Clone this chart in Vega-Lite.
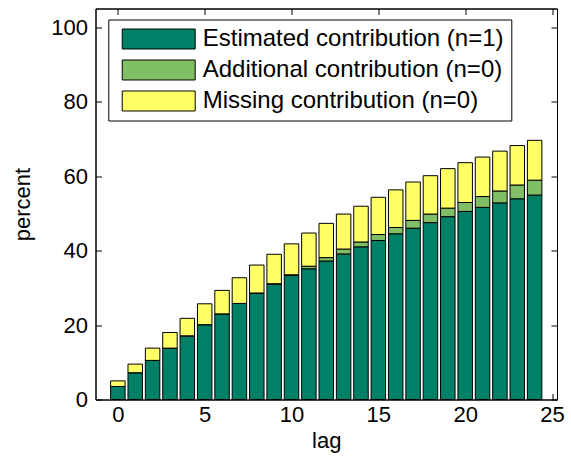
{
  "$schema": "https://vega.github.io/schema/vega-lite/v6.json",
  "width": 461.5,
  "height": 391,
  "autosize": "none",
  "padding": {"left": 95.5, "top": 8.5, "right": 14, "bottom": 64.5},
  "background": "white",
  "config": {
    "view": {"stroke": "black", "strokeWidth": 1},
    "font": "Liberation Sans",
    "axis": {
      "grid": false,
      "domainColor": "black",
      "domainWidth": 1,
      "tickColor": "black",
      "tickWidth": 1,
      "tickSize": -6,
      "labelColor": "black",
      "labelFont": "Liberation Sans",
      "labelFontSize": 22,
      "titleColor": "black",
      "titleFont": "Liberation Sans",
      "titleFontSize": 22,
      "titleFontWeight": "normal"
    }
  },
  "data": {
    "values": [
      {"lag": 0, "c": "Estimated contribution (n=1)", "i": 1, "v": 3.5},
      {"lag": 0, "c": "Additional contribution (n=0)", "i": 2, "v": 0},
      {"lag": 0, "c": "Missing contribution (n=0)", "i": 3, "v": 1.5},
      {"lag": 1, "c": "Estimated contribution (n=1)", "i": 1, "v": 7.2},
      {"lag": 1, "c": "Additional contribution (n=0)", "i": 2, "v": 0},
      {"lag": 1, "c": "Missing contribution (n=0)", "i": 3, "v": 2.3},
      {"lag": 2, "c": "Estimated contribution (n=1)", "i": 1, "v": 10.5},
      {"lag": 2, "c": "Additional contribution (n=0)", "i": 2, "v": 0},
      {"lag": 2, "c": "Missing contribution (n=0)", "i": 3, "v": 3.3},
      {"lag": 3, "c": "Estimated contribution (n=1)", "i": 1, "v": 13.8},
      {"lag": 3, "c": "Additional contribution (n=0)", "i": 2, "v": 0},
      {"lag": 3, "c": "Missing contribution (n=0)", "i": 3, "v": 4.2},
      {"lag": 4, "c": "Estimated contribution (n=1)", "i": 1, "v": 17.1},
      {"lag": 4, "c": "Additional contribution (n=0)", "i": 2, "v": 0},
      {"lag": 4, "c": "Missing contribution (n=0)", "i": 3, "v": 4.7},
      {"lag": 5, "c": "Estimated contribution (n=1)", "i": 1, "v": 20.1},
      {"lag": 5, "c": "Additional contribution (n=0)", "i": 2, "v": 0},
      {"lag": 5, "c": "Missing contribution (n=0)", "i": 3, "v": 5.6},
      {"lag": 6, "c": "Estimated contribution (n=1)", "i": 1, "v": 23.0},
      {"lag": 6, "c": "Additional contribution (n=0)", "i": 2, "v": 0},
      {"lag": 6, "c": "Missing contribution (n=0)", "i": 3, "v": 6.3},
      {"lag": 7, "c": "Estimated contribution (n=1)", "i": 1, "v": 25.8},
      {"lag": 7, "c": "Additional contribution (n=0)", "i": 2, "v": 0},
      {"lag": 7, "c": "Missing contribution (n=0)", "i": 3, "v": 6.9},
      {"lag": 8, "c": "Estimated contribution (n=1)", "i": 1, "v": 28.5},
      {"lag": 8, "c": "Additional contribution (n=0)", "i": 2, "v": 0.1},
      {"lag": 8, "c": "Missing contribution (n=0)", "i": 3, "v": 7.5},
      {"lag": 9, "c": "Estimated contribution (n=1)", "i": 1, "v": 31.0},
      {"lag": 9, "c": "Additional contribution (n=0)", "i": 2, "v": 0.1},
      {"lag": 9, "c": "Missing contribution (n=0)", "i": 3, "v": 7.9},
      {"lag": 10, "c": "Estimated contribution (n=1)", "i": 1, "v": 33.3},
      {"lag": 10, "c": "Additional contribution (n=0)", "i": 2, "v": 0.2},
      {"lag": 10, "c": "Missing contribution (n=0)", "i": 3, "v": 8.3},
      {"lag": 11, "c": "Estimated contribution (n=1)", "i": 1, "v": 35.1},
      {"lag": 11, "c": "Additional contribution (n=0)", "i": 2, "v": 0.7},
      {"lag": 11, "c": "Missing contribution (n=0)", "i": 3, "v": 8.9},
      {"lag": 12, "c": "Estimated contribution (n=1)", "i": 1, "v": 37.2},
      {"lag": 12, "c": "Additional contribution (n=0)", "i": 2, "v": 0.9},
      {"lag": 12, "c": "Missing contribution (n=0)", "i": 3, "v": 9.2},
      {"lag": 13, "c": "Estimated contribution (n=1)", "i": 1, "v": 39.1},
      {"lag": 13, "c": "Additional contribution (n=0)", "i": 2, "v": 1.3},
      {"lag": 13, "c": "Missing contribution (n=0)", "i": 3, "v": 9.4},
      {"lag": 14, "c": "Estimated contribution (n=1)", "i": 1, "v": 41.0},
      {"lag": 14, "c": "Additional contribution (n=0)", "i": 2, "v": 1.3},
      {"lag": 14, "c": "Missing contribution (n=0)", "i": 3, "v": 9.6},
      {"lag": 15, "c": "Estimated contribution (n=1)", "i": 1, "v": 42.7},
      {"lag": 15, "c": "Additional contribution (n=0)", "i": 2, "v": 1.6},
      {"lag": 15, "c": "Missing contribution (n=0)", "i": 3, "v": 10.0},
      {"lag": 16, "c": "Estimated contribution (n=1)", "i": 1, "v": 44.5},
      {"lag": 16, "c": "Additional contribution (n=0)", "i": 2, "v": 1.7},
      {"lag": 16, "c": "Missing contribution (n=0)", "i": 3, "v": 10.1},
      {"lag": 17, "c": "Estimated contribution (n=1)", "i": 1, "v": 46.0},
      {"lag": 17, "c": "Additional contribution (n=0)", "i": 2, "v": 2.1},
      {"lag": 17, "c": "Missing contribution (n=0)", "i": 3, "v": 10.3},
      {"lag": 18, "c": "Estimated contribution (n=1)", "i": 1, "v": 47.5},
      {"lag": 18, "c": "Additional contribution (n=0)", "i": 2, "v": 2.3},
      {"lag": 18, "c": "Missing contribution (n=0)", "i": 3, "v": 10.3},
      {"lag": 19, "c": "Estimated contribution (n=1)", "i": 1, "v": 49.1},
      {"lag": 19, "c": "Additional contribution (n=0)", "i": 2, "v": 2.3},
      {"lag": 19, "c": "Missing contribution (n=0)", "i": 3, "v": 10.6},
      {"lag": 20, "c": "Estimated contribution (n=1)", "i": 1, "v": 50.5},
      {"lag": 20, "c": "Additional contribution (n=0)", "i": 2, "v": 2.4},
      {"lag": 20, "c": "Missing contribution (n=0)", "i": 3, "v": 10.7},
      {"lag": 21, "c": "Estimated contribution (n=1)", "i": 1, "v": 51.6},
      {"lag": 21, "c": "Additional contribution (n=0)", "i": 2, "v": 2.9},
      {"lag": 21, "c": "Missing contribution (n=0)", "i": 3, "v": 10.6},
      {"lag": 22, "c": "Estimated contribution (n=1)", "i": 1, "v": 52.8},
      {"lag": 22, "c": "Additional contribution (n=0)", "i": 2, "v": 3.2},
      {"lag": 22, "c": "Missing contribution (n=0)", "i": 3, "v": 10.7},
      {"lag": 23, "c": "Estimated contribution (n=1)", "i": 1, "v": 53.9},
      {"lag": 23, "c": "Additional contribution (n=0)", "i": 2, "v": 3.7},
      {"lag": 23, "c": "Missing contribution (n=0)", "i": 3, "v": 10.6},
      {"lag": 24, "c": "Estimated contribution (n=1)", "i": 1, "v": 54.9},
      {"lag": 24, "c": "Additional contribution (n=0)", "i": 2, "v": 4.0},
      {"lag": 24, "c": "Missing contribution (n=0)", "i": 3, "v": 10.7}
    ]
  },
  "layer": [
    {
      "mark": {"type": "bar", "size": 14.5, "stroke": "black", "strokeWidth": 1},
      "encoding": {
        "x": {
          "field": "lag", "type": "quantitative",
          "scale": {"domain": [-1, 25], "nice": false, "zero": false},
          "axis": {"values": [0, 5, 10, 15, 20, 25], "title": "lag", "labelPadding": 11, "titlePadding": 5}
        },
        "y": {
          "field": "v", "type": "quantitative", "stack": "zero",
          "scale": {"domain": [0, 105], "nice": false},
          "axis": {"values": [0, 20, 40, 60, 80, 100], "title": "percent", "labelPadding": 14, "titlePadding": 16}
        },
        "color": {
          "field": "c", "type": "nominal",
          "scale": {
            "domain": ["Estimated contribution (n=1)", "Additional contribution (n=0)", "Missing contribution (n=0)"],
            "range": ["#008066", "#80bf66", "#ffff66"]
          },
          "legend": {
            "title": null,
            "orient": "none",
            "legendX": 12.8,
            "legendY": 11,
            "padding": 7,
            "strokeColor": "black",
            "fillColor": "white",
            "cornerRadius": 0,
            "symbolType": "M-3.04,-0.833H3.04V0.833H-3.04Z",
            "symbolSize": 576,
            "symbolStrokeColor": "black",
            "symbolStrokeWidth": 1,
            "symbolOpacity": 1,
            "symbolOffset": 30.9,
            "labelOffset": 31.5,
            "rowPadding": 6,
            "labelFont": "Liberation Sans",
            "labelFontSize": 24,
            "labelColor": "black",
            "labelLimit": 400
          }
        },
        "order": {"field": "i", "type": "quantitative"}
      }
    },
    {
      "mark": {"type": "point", "opacity": 0},
      "encoding": {
        "x": {
          "field": "lag", "type": "quantitative",
          "scale": {"domain": [-1, 25], "nice": false, "zero": false},
          "axis": {"orient": "top", "values": [0, 5, 10, 15, 20, 25], "labels": false, "title": null}
        },
        "y": {
          "field": "v", "type": "quantitative",
          "scale": {"domain": [0, 105], "nice": false},
          "axis": {"orient": "right", "values": [0, 20, 40, 60, 80, 100], "labels": false, "title": null}
        }
      }
    }
  ],
  "resolve": {"axis": {"x": "independent", "y": "independent"}}
}
